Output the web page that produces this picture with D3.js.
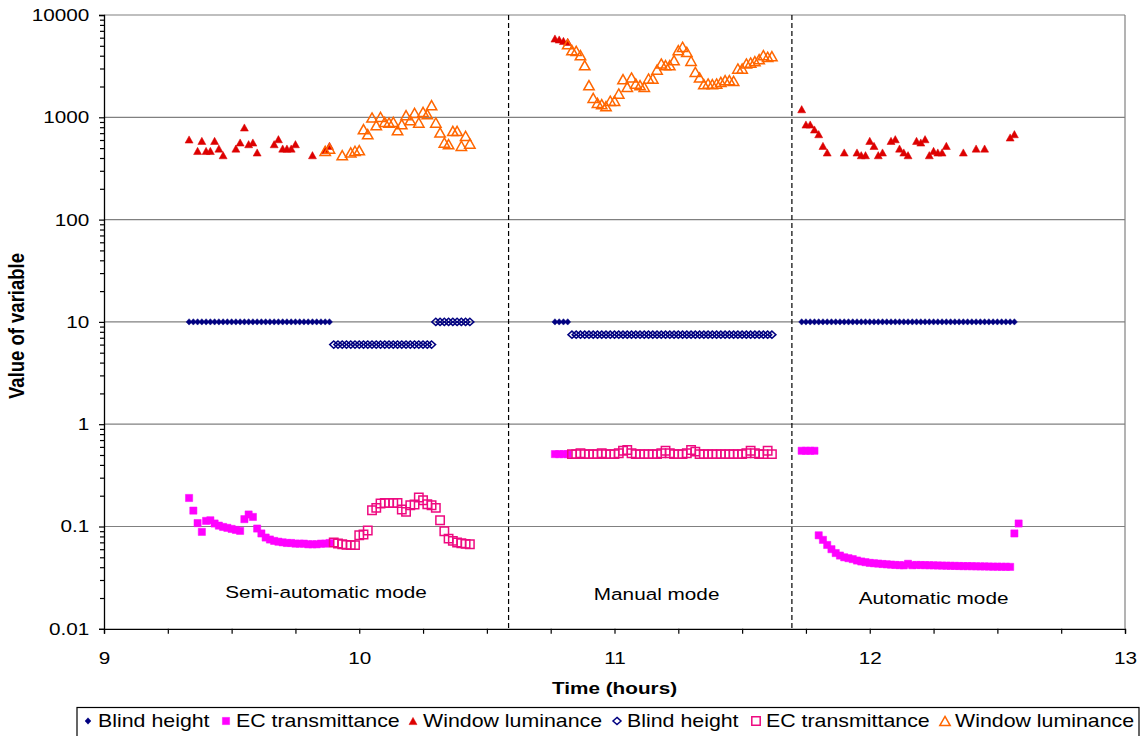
<!DOCTYPE html>
<html>
<head>
<meta charset="utf-8">
<script src="https://cdn.jsdelivr.net/npm/d3@7"></script>
<style>
  body { margin: 0; background: #fff; }
  svg { display: block; }
</style>
</head>
<body>
<div id="chart"></div>
<script>
// one reading per minute, each list starts at the clock time next to it

// semi-automatic mode
var blindSemi     = [10,10,10,10,10,10,10,10,10,10,10,10,10,10,10,10,10,10,10,10,10,10,10,10,10,10,10,10,10,10,10,10,10,10]; // 9:20
var blindSemiOpen = [6,6,6,6,6,6,6,6,6,6,6,6,6,6,6,6,6,6,6,6,6,6,6,6,10,10,10,10,10,10,10,10,10]; // 9:54
var ecSemi        = [0.19,0.143,0.108,0.0886,0.1135,0.115,0.107,0.102,0.099,0.097,0.0947,0.0926,0.0906,0.118,0.131,0.124,0.0955,0.0855,0.078,0.0746,0.0723,0.071,0.070,0.069,0.069,0.068,0.068,0.068,0.067,0.067,0.067,0.068,0.068,0.069]; // 9:20
var ecSemiOpen    = [0.0697,0.0682,0.0671,0.0661,0.0657,0.0657,0.0822,0.0835,0.0913,0.1443,0.152,0.1677,0.170,0.170,0.170,0.170,0.1465,0.139,0.1615,0.164,0.192,0.1808,0.165,0.1615,0.152,0.115,0.090,0.0762,0.0724,0.0697,0.0687,0.0676,0.0671]; // 9:54
var lumSemi       = [607,null,469,588,469,469,588,495,426,null,null,495,567,795,546,567,453,null,null,null,546,611,495,495,495,546,null,null,null,426,null,null,477,526]; // 9:20
var lumSemiOpen   = [470,495,null,null,426,null,453,470,477,765,684,995,837,1009,902,889,902,748,857,1049,937,1105,889,1130,1072,1312,889,710,566,546,736,736,526,658,554]; // 9:52

// manual mode
var blindManual     = [10,10,10,10]; // 10:46
var blindManualOpen = [7.5,7.5,7.5,7.5,7.5,7.5,7.5,7.5,7.5,7.5,7.5,7.5,7.5,7.5,7.5,7.5,7.5,7.5,7.5,7.5,7.5,7.5,7.5,7.5,7.5,7.5,7.5,7.5,7.5,7.5,7.5,7.5,7.5,7.5,7.5,7.5,7.5,7.5,7.5,7.5,7.5,7.5,7.5,7.5,7.5,7.5,7.5,7.5]; // 10:50
var ecManual        = [0.51,0.51,0.51,0.51]; // 10:46
var ecManualOpen    = [0.51,0.51,0.52,0.51,0.51,0.51,0.51,0.52,0.51,0.51,0.51,0.52,0.55,0.56,0.52,0.51,0.51,0.51,0.51,0.51,0.51,0.52,0.55,0.52,0.51,0.51,0.51,0.52,0.56,0.54,0.51,0.51,0.51,0.51,0.51,0.51,0.51,0.51,0.51,0.51,0.51,0.52,0.55,0.52,0.51,0.51,0.55,0.51]; // 10:50
var lumManual       = [5890,5760,5580,5460]; // 10:46
var lumManualOpen   = [5185,4530,4460,4045,3230,2059,1549,1384,1343,1284,1449,1449,1707,2356,1983,2448,2138,2059,1983,2393,2393,2930,3356,3230,3230,3615,4530,4884,4363,3564,2779,2448,2106,2138,2106,2138,2220,2305,2305,2270,2997,2997,3356,3430,3534,3700,4045,3900,3957]; // 10:49

// automatic mode
var blindAuto = [10,10,10,10,10,10,10,10,10,10,10,10,10,10,10,10,10,10,10,10,10,10,10,10,10,10,10,10,10,10,10,10,10,10,10,10,10,10,10,10,10,10,10,10,10,10,10,10,10,10,10]; // 11:44
var ecAuto    = [0.55,0.55,0.55,0.55,0.082,0.074,0.066,0.060,0.055,0.052,0.050,0.049,0.048,0.0465,0.0455,0.0448,0.0441,0.0437,0.0434,0.043,0.0427,0.0424,0.0421,0.0419,0.0417,0.0432,0.0418,0.0421,0.0420,0.0419,0.0418,0.0417,0.0416,0.0415,0.0414,0.0413,0.0412,0.0411,0.0410,0.0410,0.0409,0.0408,0.0407,0.0407,0.0406,0.0405,0.0405,0.0404,0.0404,0.0403,0.0855,0.107]; // 11:44
var lumAuto   = [1200,850,850,760,684,525,453,null,null,null,453,null,null,453,426,426,588,525,426,453,null,588,611,495,453,426,null,588,567,611,426,469,453,453,525,null,null,null,453,null,null,495,null,495,null,null,null,null,null,635,684]; // 11:44

var modeBreaks = [10.585, 11.695];
var modeLabels = ["Semi-automatic mode", "Manual mode", "Automatic mode"];
var xTicks = [9, 10, 11, 12, 13];
var yTicks = [0.01, 0.1, 1, 10, 100, 1000, 10000];

var series = [
  {label: "Blind height",      shape: "diamond",  open: false, color: "#000080", parts: [["9:20", blindSemi], ["10:46", blindManual], ["11:44", blindAuto]]},
  {label: "EC transmittance",  shape: "square",   open: false, color: "#FF00FF", parts: [["9:20", ecSemi], ["10:46", ecManual], ["11:44", ecAuto]]},
  {label: "Window luminance",  shape: "triangle", open: false, color: "#DD0000", parts: [["9:20", lumSemi], ["10:46", lumManual], ["11:44", lumAuto]]},
  {label: "Blind height",      shape: "diamond",  open: true,  color: "#000080", parts: [["9:54", blindSemiOpen], ["10:50", blindManualOpen]]},
  {label: "EC transmittance",  shape: "square",   open: true,  color: "#EE0A80", parts: [["9:54", ecSemiOpen], ["10:50", ecManualOpen]]},
  {label: "Window luminance",  shape: "triangle", open: true,  color: "#FF6600", parts: [["9:52", lumSemiOpen], ["10:49", lumManualOpen]]}
];

var SX = 1.22; // the picture is stretched sideways
var font = "'Liberation Sans', Arial, sans-serif";

var width = 1141, height = 736;
var margin = {top: 15, left: 104, right: 16, bottom: 107};

var svg = d3.select("#chart").append("svg")
    .attr("width", width)
    .attr("height", height);

var x = d3.scaleLinear().domain([9, 13]).range([margin.left, width - margin.right]);
var y = d3.scaleLog().domain([0.01, 10000]).range([height - margin.bottom - 0.2, margin.top]);

function clock(s) {
  var p = s.split(":");
  return +p[0] + +p[1] / 60;
}

// horizontal grid lines and frame
svg.append("g").selectAll("line")
  .data(yTicks.slice(1))
  .enter().append("line")
    .attr("x1", x(9)).attr("x2", x(13))
    .attr("y1", function(d) { return y(d); })
    .attr("y2", function(d) { return y(d); })
    .attr("stroke", "#808080").attr("stroke-width", 1.2);

svg.append("line")
  .attr("x1", x(13)).attr("x2", x(13))
  .attr("y1", y(10000)).attr("y2", y(0.01))
  .attr("stroke", "#808080").attr("stroke-width", 1.2);

// minor ticks
var yMinor = [];
yTicks.slice(0, -1).forEach(function(d) {
  for (var k = 2; k < 10; k++) yMinor.push(d * k);
});
var xMinor = [];
for (var h = 9; h < 13; h += 0.25) if (h % 1 != 0) xMinor.push(h);

var yAxis = svg.append("g")
  .attr("transform", "translate(" + x(9) + ",0)")
  .call(d3.axisLeft(y).tickValues(yTicks).tickSize(5).tickPadding(7)
    .tickFormat(function(d) { return String(d); }));
svg.append("g")
  .attr("transform", "translate(" + x(9) + ",0)")
  .call(d3.axisLeft(y).tickValues(yMinor).tickSize(4).tickFormat(""))
  .select(".domain").remove();

var xAxis = svg.append("g")
  .attr("transform", "translate(0," + y(0.01) + ")")
  .call(d3.axisBottom(x).tickValues(xTicks).tickSize(5).tickPadding(18).tickFormat(d3.format("d")));
svg.append("g")
  .attr("transform", "translate(0," + y(0.01) + ")")
  .call(d3.axisBottom(x).tickValues(xMinor).tickSize(5).tickFormat(""))
  .select(".domain").remove();

svg.selectAll(".tick line").attr("stroke", "#000").attr("stroke-width", 1.2);
svg.selectAll(".domain").attr("stroke", "#000").attr("stroke-width", 1.3);
svg.selectAll(".tick text")
  .attr("font-family", font)
  .attr("font-size", 17)
  .attr("fill", "#000")
  .attr("transform", "scale(" + SX + ",1)");

// mode boundaries
svg.append("g").selectAll("line")
  .data(modeBreaks)
  .enter().append("line")
    .attr("x1", function(d) { return x(d); })
    .attr("x2", function(d) { return x(d); })
    .attr("y1", y(10000)).attr("y2", y(0.01))
    .attr("stroke", "#000").attr("stroke-width", 1.2)
    .attr("stroke-dasharray", "5,3");

// mode names, placed in data units (hours, value)
var labelPos = [[9.87, 0.0199], [11.165, 0.019], [12.25, 0.0174]];
modeLabels.forEach(function(t, i) {
  svg.append("text")
    .attr("transform", "translate(" + x(labelPos[i][0]) + "," + y(labelPos[i][1]) + ") scale(" + SX + ",1)")
    .attr("text-anchor", "middle")
    .attr("font-family", font)
    .attr("font-size", 17)
    .text(t);
});

// marker shapes
function shapePath(shape, open) {
  if (shape == "diamond") {
    var w = open ? 4 : 3, hh = open ? 3.6 : 3.2;
    return "M0," + (-hh) + "L" + w + ",0L0," + hh + "L" + (-w) + ",0Z";
  }
  if (shape == "square") {
    var s = open ? 4.2 : 3.6;
    return "M" + (-s) + "," + (-s) + "H" + s + "V" + s + "H" + (-s) + "Z";
  }
  var tw = open ? 5.2 : 4, th = open ? 4.6 : 3.6;
  return "M0," + (-th) + "L" + tw + "," + th + "L" + (-tw) + "," + th + "Z";
}

function styleMarker(sel, s) {
  sel.attr("d", shapePath(s.shape, s.open))
    .attr("fill", s.open ? "none" : s.color)
    .attr("stroke", s.color)
    .attr("stroke-width", s.open ? 1.5 : 0.5);
}

series.forEach(function(s) {
  var pts = [];
  s.parts.forEach(function(p) {
    var t0 = clock(p[0]);
    p[1].forEach(function(v, i) {
      if (v != null) pts.push({t: t0 + i / 60, v: v});
    });
  });
  svg.append("g").selectAll("path")
    .data(pts)
    .enter().append("path")
      .attr("transform", function(d) { return "translate(" + x(d.t) + "," + y(d.v) + ")"; })
      .call(styleMarker, s);
});

// axis titles
svg.append("text")
  .attr("transform", "translate(" + (x(11)) + ",694) scale(" + SX + ",1)")
  .attr("text-anchor", "middle")
  .attr("font-family", font)
  .attr("font-size", 17)
  .attr("font-weight", "bold")
  .text("Time (hours)");

svg.append("text")
  .attr("transform", "translate(24,326) scale(" + SX + ",1) rotate(-90)")
  .attr("text-anchor", "middle")
  .attr("font-family", font)
  .attr("font-size", 18.5)
  .attr("font-weight", "bold")
  .text("Value of variable");

// legend
var legend = svg.append("g");
legend.append("rect")
  .attr("x", 77).attr("y", 707.5)
  .attr("width", 1062).attr("height", 40)
  .attr("fill", "#fff").attr("stroke", "#000").attr("stroke-width", 1.2);

var legendX = [88, 226, 413, 617, 756, 945];
series.forEach(function(s, i) {
  legend.append("path")
    .attr("transform", "translate(" + legendX[i] + ",721)")
    .call(styleMarker, s);
  legend.append("text")
    .attr("transform", "translate(" + (legendX[i] + 10) + ",727) scale(" + SX + ",1)")
    .attr("font-family", font)
    .attr("font-size", 17.5)
    .text(s.label);
});
</script>
</body>
</html>
